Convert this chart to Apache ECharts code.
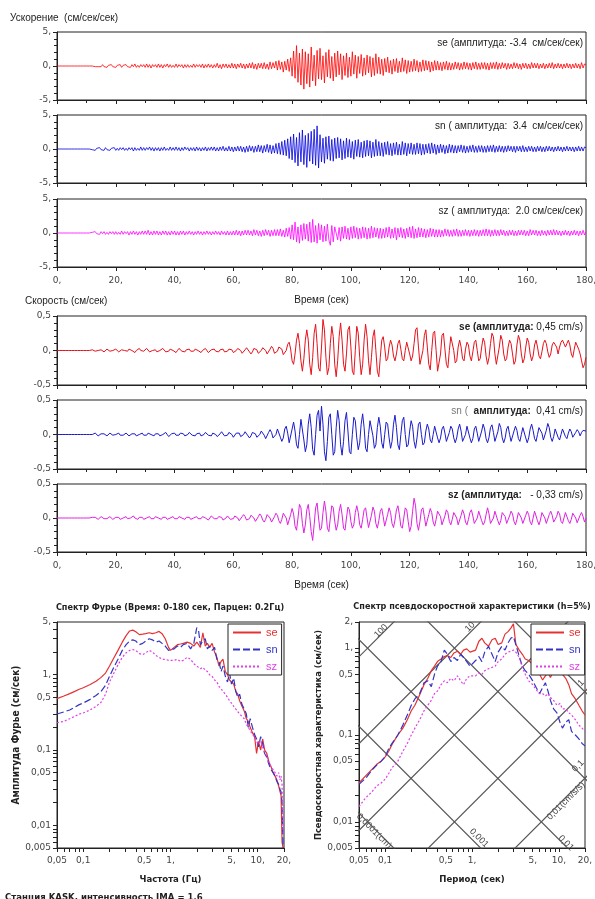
<!DOCTYPE html>
<html>
<head>
<meta charset="utf-8">
<script src="https://cdn.jsdelivr.net/npm/echarts@6/dist/echarts.min.js"></script>
<style>
html, body { margin: 0; padding: 0; background: #fff; }
#chart { width: 595px; height: 899px; }
</style>
</head>
<body>
<div id="chart"></div>
<script>
// шаг записи, сек
const DT = 0.5;

// ускорение, см/сек/сек (0..180 сек, шаг 0.5)
const ACC_SE = [
  0,0,0,0,0,0,0,0,0,0,
  0,0,0,0,0,0,0,0,0,0,
  0,0,0,0,0,0.1,-0.1,0.1,-0.1,0.1,
  -0.1,0.2,-0.1,0.1,-0.2,0.1,-0.1,0.2,-0.1,0.1,
  -0.2,0.1,-0.1,0.2,-0.2,0.1,-0.1,0.2,-0.1,0.1,
  -0.2,0.2,-0.1,0.3,-0.2,0.1,-0.2,0.2,-0.1,0.2,
  -0.2,0.3,-0.2,0.2,-0.3,0.2,-0.1,0.2,-0.2,0.3,
  -0.2,0.2,-0.3,0.2,-0.1,0.3,-0.2,0.2,-0.2,0.1,
  -0.2,0.3,-0.2,0.2,-0.1,0.2,-0.3,0.2,-0.2,0.2,
  -0.2,0.1,-0.2,0.3,-0.2,0.2,-0.1,0.2,-0.2,0.3,
  -0.3,0.2,-0.2,0.3,-0.2,0.2,-0.3,0.2,-0.2,0.4,
  -0.3,0.2,-0.4,0.3,-0.2,0.3,-0.3,0.2,-0.3,0.4,
  -0.3,0.3,-0.4,0.3,-0.2,0.4,-0.3,0.3,-0.4,0.3,
  -0.3,0.4,-0.3,0.5,-0.4,0.3,-0.5,0.4,-0.3,0.4,
  -0.4,0.5,-0.4,0.3,-0.5,0.6,-0.4,0.5,-0.3,0.7,
  -0.6,0.8,-0.5,0.6,-0.9,0.7,-0.6,1.0,-0.8,1.2,
  -1.5,2.2,-1.8,3.0,-2.4,1.9,-2.8,2.5,-3.4,2.1,
  -2.6,1.8,-3.1,2.8,-2.2,1.6,-2.9,2.3,-1.9,2.6,
  -2.0,1.5,-2.5,2.0,-1.6,2.4,-1.8,1.4,-2.2,1.9,
  -1.6,2.2,-1.3,1.8,-2.0,1.5,-1.4,1.9,-1.7,1.3,
  -1.5,2.1,-1.2,1.6,-1.8,1.4,-1.1,1.7,-1.5,1.2,
  -1.3,1.6,-1.0,1.4,-1.6,1.2,-1.4,1.8,-1.1,1.3,
  -1.2,1.0,-1.4,1.1,-0.9,1.3,-1.0,0.8,-1.2,1.0,
  -0.8,1.1,-1.0,0.7,-0.9,1.2,-0.8,0.9,-1.1,0.8,
  -0.9,0.7,-0.8,1.0,-0.7,0.8,-0.9,0.6,-0.8,0.9,
  -0.7,0.8,-0.6,0.7,-0.9,0.6,-0.7,0.8,-0.6,0.7,
  -0.6,0.5,-0.7,0.6,-0.5,0.7,-0.6,0.5,-0.6,0.4,
  -0.5,0.6,-0.4,0.5,-0.6,0.4,-0.5,0.6,-0.4,0.5,
  -0.5,0.4,-0.6,0.5,-0.4,0.6,-0.5,0.4,-0.5,0.5,
  -0.4,0.5,-0.5,0.4,-0.6,0.5,-0.4,0.5,-0.4,0.6,
  -0.5,0.4,-0.4,0.5,-0.3,0.4,-0.5,0.4,-0.4,0.3,
  -0.4,0.5,-0.3,0.4,-0.4,0.3,-0.5,0.4,-0.3,0.4,
  -0.4,0.3,-0.4,0.5,-0.3,0.4,-0.3,0.4,-0.4,0.3,
  -0.3,0.4,-0.4,0.3,-0.3,0.4,-0.3,0.5,-0.4,0.3,
  -0.3,0.4,-0.3,0.3,-0.4,0.3,-0.3,0.4,-0.3,0.3,
  -0.4,0.3,-0.3,0.4,-0.3,0.3,-0.4,0.5,-0.3,0.3,
  0.2
];
const ACC_SN = [
  0,0,0,0,0,0,0,0,0,0,
  0,0,0,0,0,0,0,0,0,0,
  0,0,0,0.1,-0.1,0.1,-0.2,0.1,-0.1,0.2,
  -0.1,0.1,-0.2,0.2,-0.1,0.1,-0.2,0.1,-0.1,0.2,
  -0.2,0.1,-0.2,0.2,-0.1,0.2,-0.2,0.1,-0.2,0.2,
  -0.1,0.2,-0.3,0.2,-0.2,0.1,-0.2,0.3,-0.2,0.2,
  -0.2,0.2,-0.1,0.3,-0.2,0.2,-0.3,0.2,-0.2,0.2,
  -0.3,0.2,-0.2,0.3,-0.2,0.1,-0.2,0.3,-0.2,0.2,
  -0.2,0.3,-0.2,0.2,-0.3,0.2,-0.2,0.3,-0.1,0.2,
  -0.3,0.2,-0.2,0.2,-0.3,0.3,-0.2,0.2,-0.3,0.2,
  -0.2,0.3,-0.3,0.2,-0.2,0.3,-0.2,0.3,-0.3,0.2,
  -0.3,0.3,-0.2,0.4,-0.3,0.2,-0.3,0.4,-0.3,0.3,
  -0.4,0.3,-0.3,0.4,-0.3,0.4,-0.4,0.3,-0.5,0.4,
  -0.4,0.5,-0.3,0.4,-0.5,0.4,-0.4,0.6,-0.4,0.5,
  -0.6,0.5,-0.4,0.7,-0.5,0.6,-0.7,0.5,-0.6,0.8,
  -0.7,0.9,-0.8,1.1,-0.9,1.3,-1.0,1.5,-1.4,1.8,
  -1.6,2.2,-2.0,1.7,-2.5,2.4,-1.9,2.8,-2.3,2.0,
  -2.7,2.3,-1.8,2.6,-2.2,2.9,-2.4,3.4,-2.8,2.1,
  -1.9,1.6,-2.1,1.8,-1.5,1.9,-1.7,1.4,-1.8,1.6,
  -1.4,1.7,-1.3,1.5,-1.6,1.2,-1.4,1.6,-1.2,1.4,
  -1.3,1.1,-1.5,1.3,-1.1,1.4,-1.2,1.0,-1.3,1.2,
  -1.1,1.3,-1.0,1.2,-1.3,1.0,-1.1,1.4,-1.0,1.1,
  -1.0,0.9,-1.1,1.0,-0.8,1.1,-0.9,0.8,-1.0,0.9,
  -0.8,1.0,-0.9,0.7,-0.9,1.1,-0.8,0.9,-1.0,0.8,
  -0.7,0.9,-0.8,0.7,-0.8,0.9,-0.7,0.8,-0.9,0.7,
  -0.8,0.7,-0.6,0.8,-0.7,0.9,-0.6,0.7,-0.8,0.6,
  -0.6,0.7,-0.5,0.6,-0.7,0.5,-0.6,0.7,-0.5,0.6,
  -0.6,0.5,-0.6,0.5,-0.4,0.6,-0.5,0.5,-0.6,0.4,
  -0.5,0.5,-0.4,0.6,-0.5,0.4,-0.5,0.5,-0.4,0.5,
  -0.5,0.4,-0.5,0.5,-0.4,0.5,-0.4,0.6,-0.5,0.4,
  -0.4,0.5,-0.4,0.4,-0.5,0.4,-0.4,0.5,-0.3,0.4,
  -0.4,0.4,-0.5,0.4,-0.3,0.4,-0.4,0.5,-0.4,0.3,
  -0.4,0.4,-0.3,0.4,-0.4,0.3,-0.4,0.4,-0.3,0.4,
  -0.4,0.3,-0.4,0.4,-0.3,0.4,-0.3,0.3,-0.4,0.3,
  -0.3,0.4,-0.3,0.3,-0.4,0.3,-0.3,0.4,-0.3,0.3,
  -0.3,0.3,-0.4,0.3,-0.3,0.4,-0.3,0.3,-0.3,0.3,
  0.2
];
const ACC_SZ = [
  0,0,0,0,0,0,0,0,0,0,
  0,0,0,0,0,0,0,0,0,0,
  0,0,0,0,0.1,-0.1,0.2,-0.1,0.1,-0.2,
  0.2,-0.1,0.2,-0.2,0.1,-0.2,0.2,-0.1,0.2,-0.2,
  0.2,-0.2,0.1,-0.2,0.3,-0.2,0.2,-0.1,0.2,-0.3,
  0.2,-0.2,0.3,-0.2,0.2,-0.3,0.2,-0.2,0.3,-0.2,
  0.3,-0.2,0.4,-0.3,0.2,-0.3,0.3,-0.2,0.3,-0.3,
  0.2,-0.3,0.3,-0.2,0.3,-0.3,0.2,-0.3,0.3,-0.2,
  0.3,-0.3,0.2,-0.3,0.3,-0.2,0.3,-0.3,0.2,-0.2,
  0.3,-0.2,0.2,-0.3,0.2,-0.2,0.3,-0.2,0.2,-0.3,
  0.2,-0.2,0.3,-0.2,0.2,-0.3,0.2,-0.2,0.3,-0.2,
  0.2,-0.3,0.3,-0.2,0.2,-0.3,0.3,-0.3,0.2,-0.3,
  0.3,-0.3,0.4,-0.3,0.3,-0.4,0.3,-0.3,0.4,-0.3,
  0.4,-0.3,0.3,-0.4,0.5,-0.3,0.4,-0.4,0.3,-0.5,
  0.4,-0.4,0.5,-0.3,0.4,-0.5,0.4,-0.4,0.5,-0.4,
  0.5,-0.4,0.6,-0.5,0.4,-0.6,0.7,-0.5,0.8,-0.9,
  1.2,-1.0,1.6,-1.3,0.9,-1.5,1.2,-1.1,1.4,-0.9,
  1.3,-1.2,1.6,-1.4,2.0,-1.3,1.1,-1.5,1.4,-1.0,
  1.2,-1.3,1.0,-1.2,1.3,-1.0,-1.8,1.1,-1.3,0.9,
  1.1,-1.0,0.8,-1.2,0.9,-0.8,1.0,-0.9,0.7,-1.0,
  0.9,-0.8,1.0,-0.7,0.8,-0.9,0.7,-0.8,0.9,-0.7,
  0.8,-0.9,0.7,-0.8,1.0,-0.7,0.8,-0.6,0.7,-0.8,
  0.7,-0.8,0.6,-0.7,0.8,-0.6,0.9,-0.8,0.6,-0.7,
  0.8,-1.0,0.7,-0.6,0.8,-0.7,0.6,-0.8,0.7,-0.6,
  0.9,-0.7,1.0,-0.8,0.6,-0.7,0.8,-0.6,0.7,-0.6,
  0.6,-0.7,0.5,-0.6,0.7,-0.5,0.6,-0.6,0.5,-0.6,
  0.5,-0.6,0.4,-0.5,0.6,-0.4,0.5,-0.5,0.4,-0.5,
  0.5,-0.4,0.6,-0.5,0.4,-0.5,0.4,-0.4,0.5,-0.4,
  0.4,-0.5,0.4,-0.4,0.5,-0.4,0.4,-0.5,0.4,-0.4,
  0.5,-0.4,0.6,-0.4,0.5,-0.5,0.4,-0.4,0.5,-0.4,
  0.4,-0.4,0.5,-0.3,0.4,-0.4,0.3,-0.4,0.4,-0.3,
  0.4,-0.4,0.3,-0.4,0.4,-0.3,0.4,-0.3,0.4,-0.4,
  0.3,-0.4,0.5,-0.3,0.4,-0.3,0.4,-0.4,0.3,-0.4,
  0.4,-0.3,0.3,-0.4,0.4,-0.3,0.4,-0.3,0.5,-0.3,
  0.4,-0.3,0.3,-0.4,0.3,-0.3,0.4,-0.3,0.3,-0.4,
  0.3,-0.3,0.4,-0.3,0.3,-0.4,0.3,-0.3,0.4,-0.3,
  0.2
];

// скорость, см/сек (0..180 сек, шаг 0.5)
const VEL_SE = [
  0,0,0,0,0,0,0,0,0,0,
  0,0,0,0,0,0,0,0,0,0,
  0,0,0,0,0.01,0.01,-0.01,-0.02,0,0.02,
  0.01,-0.01,-0.02,0,0.02,0.01,-0.01,-0.02,0,0.01,
  0.02,0,-0.02,-0.01,0.01,0.02,0,-0.02,-0.01,0.02,
  0.03,0,-0.02,-0.03,0,0.02,0.03,0,-0.02,-0.01,
  0.01,0.03,0.01,-0.02,-0.03,0,0.02,0.01,-0.02,-0.03,
  0,0.02,0.03,0.01,-0.02,-0.03,-0.01,0.02,0.03,0,
  -0.02,-0.03,0,0.03,0.02,-0.01,-0.03,-0.02,0.01,0.03,
  0.02,-0.01,-0.03,-0.01,0.02,0.03,0,-0.02,-0.03,0,
  0.02,0.03,0,-0.03,-0.02,0.01,0.03,0.02,-0.01,-0.03,
  -0.02,0.01,0.03,0.02,-0.02,-0.04,-0.01,0.02,0.04,0.01,
  -0.03,-0.04,0,0.03,0.04,0,-0.04,-0.03,0.01,0.04,
  0.03,-0.02,-0.05,-0.02,0.03,0.05,0.01,-0.04,-0.05,0,
  0.04,0.05,0,-0.05,-0.04,0.02,0.06,0.03,-0.04,-0.06,
  -0.01,0.05,0.07,0.02,-0.06,-0.08,0,0.09,0.12,0.02,
  -0.15,-0.2,-0.05,0.15,0.25,0.1,-0.15,-0.3,-0.12,0.15,
  0.3,0.15,-0.2,-0.35,-0.1,0.25,0.38,0.1,-0.25,-0.3,
  0.05,0.45,0.3,-0.1,-0.35,-0.25,0.1,0.35,0.2,-0.2,
  -0.38,-0.15,0.2,0.4,0.15,-0.2,-0.3,-0.05,0.3,0.35,
  0.05,-0.3,-0.35,0,0.35,0.25,-0.1,-0.35,-0.2,0.15,
  0.38,0.2,-0.15,-0.35,-0.1,0.2,0.3,0,-0.3,-0.38,
  -0.1,0.15,0.2,0.05,-0.15,-0.12,0.05,0.15,0.08,-0.08,
  -0.15,-0.05,0.1,0.15,0.02,-0.12,-0.15,0,0.12,0.1,
  -0.05,-0.15,-0.08,0.1,0.3,0.33,0.05,-0.2,-0.22,0,
  0.22,0.3,0.05,-0.2,-0.28,0,0.25,0.28,0,-0.3,
  -0.32,-0.05,0.22,0.25,0.02,-0.2,-0.25,0,0.2,0.22,
  0,-0.18,-0.15,0.05,0.15,0.05,-0.12,-0.15,0.02,0.12,
  0.08,-0.08,-0.15,-0.02,0.12,0.15,0,-0.15,-0.12,0.05,
  0.18,0.12,-0.08,-0.2,-0.1,0.1,0.25,0.2,-0.05,-0.2,
  -0.18,0.05,0.22,0.15,-0.05,-0.15,-0.12,0.05,0.15,0.1,
  -0.05,-0.2,-0.15,0.08,0.22,0.15,-0.05,-0.18,-0.12,0.05,
  0.18,0.12,-0.05,-0.15,-0.08,0.08,0.15,0.05,-0.08,-0.12,
  -0.02,0.1,0.15,0.1,-0.02,-0.1,-0.05,0.08,0.12,0.1,
  0.05,-0.05,0.05,0.12,0.15,0.1,0.05,0.1,0.15,0.08,
  -0.05,-0.1,0.02,0.12,0.1,0.02,-0.05,-0.15,-0.25,-0.2,
  -0.1
];
const VEL_SN = [
  0,0,0,0,0,0,0,0,0,0,
  0,0,0,0,0,0,0,0,0,0,
  0,0,0,0,0,0.01,0.02,0,-0.02,-0.01,
  0.01,0.02,0.01,-0.01,-0.02,0,0.02,0.01,-0.01,-0.02,
  0,0.02,0.02,-0.01,-0.02,-0.01,0.01,0.02,0,-0.02,
  -0.02,0.01,0.03,0.01,-0.02,-0.03,0,0.02,0.02,-0.01,
  -0.03,-0.01,0.02,0.03,0,-0.02,-0.02,0.01,0.03,0.01,
  -0.02,-0.03,0,0.02,0.03,0,-0.03,-0.02,0.01,0.03,
  0.02,-0.01,-0.03,-0.01,0.02,0.03,0.01,-0.02,-0.03,0,
  0.03,0.02,-0.01,-0.03,-0.02,0.01,0.03,0.02,-0.02,-0.03,
  0,0.03,0.03,-0.01,-0.03,-0.02,0.02,0.03,0,-0.03,
  -0.03,0.01,0.04,0.02,-0.02,-0.04,-0.01,0.03,0.04,0,
  -0.04,-0.03,0.02,0.04,0.02,-0.03,-0.04,0,0.04,0.03,
  -0.02,-0.05,-0.02,0.03,0.05,0.01,-0.04,-0.05,0,0.05,
  0.05,-0.01,-0.06,-0.04,0.03,0.07,0.03,-0.05,-0.07,0,
  0.08,0.06,-0.04,-0.1,-0.05,0.08,0.12,0.02,-0.12,-0.1,
  0.08,0.18,0.05,-0.15,-0.2,0,0.22,0.2,-0.08,-0.25,
  -0.15,0.15,0.3,0.1,-0.22,-0.3,0,0.28,0.35,0.05,
  0.41,0.15,-0.25,-0.38,-0.1,0.25,0.3,0,-0.3,-0.25,
  0.1,0.35,0.2,-0.15,-0.3,-0.1,0.2,0.32,0.05,-0.25,
  -0.28,0,0.25,0.2,-0.05,-0.22,-0.12,0.15,0.3,0.1,
  -0.2,-0.25,0,0.2,0.22,-0.02,-0.2,-0.15,0.1,0.25,
  0.12,-0.12,-0.2,0,0.18,0.15,-0.05,-0.2,-0.1,0.15,
  0.28,0.1,-0.15,-0.22,0,0.2,0.25,0,-0.18,-0.15,
  0.05,0.2,0.12,-0.1,-0.2,-0.05,0.15,0.18,0,-0.15,
  -0.12,0.05,0.15,0.08,-0.08,-0.12,0,0.12,0.1,-0.05,
  -0.12,-0.05,0.08,0.12,0.02,-0.1,-0.1,0.03,0.12,0.08,
  -0.05,-0.12,-0.05,0.08,0.15,0.05,-0.1,-0.12,0,0.12,
  0.1,-0.05,-0.12,-0.06,0.08,0.12,0.02,-0.1,-0.1,0.05,
  0.15,0.08,-0.06,-0.12,-0.04,0.1,0.14,0.03,-0.1,-0.1,
  0.04,0.16,0.1,-0.05,-0.12,-0.05,0.08,0.12,0,-0.1,
  -0.08,0.05,0.12,0.06,-0.06,-0.1,0,0.1,0.08,-0.05,
  -0.12,-0.05,0.08,0.15,0.06,-0.06,-0.1,0,0.1,0.12,
  0.02,-0.08,-0.06,0.06,0.16,0.1,-0.04,-0.1,-0.03,0.08,
  0.06,-0.04,-0.08,0,0.08,0.06,-0.03,-0.06,0.02,0.08,
  0.04,-0.04,-0.05,0.03,0.07,0.04,-0.02,0.03,0.06,0.04,
  0.05
];
const VEL_SZ = [
  0,0,0,0,0,0,0,0,0,0,
  0,0,0,0,0,0,0,0,0,0,
  0,0,0,0,0.01,0.02,0.01,-0.01,-0.02,0,
  0.02,0.02,-0.01,-0.02,-0.01,0.01,0.02,0,-0.02,-0.01,
  0.01,0.02,0.01,-0.02,-0.02,0,0.02,0.02,-0.01,-0.02,
  0,0.02,0.03,0,-0.02,-0.02,0.01,0.03,0.01,-0.02,
  -0.03,0,0.02,0.02,-0.01,-0.03,-0.01,0.02,0.03,0,
  -0.02,-0.02,0.01,0.03,0.01,-0.02,-0.03,0,0.02,0.02,
  -0.01,-0.03,-0.01,0.02,0.03,0,-0.02,-0.02,0.01,0.03,
  0.01,-0.02,-0.03,0,0.02,0.02,-0.01,-0.03,-0.01,0.02,
  0.03,0,-0.02,-0.03,0,0.03,0.02,-0.01,-0.03,-0.01,
  0.02,0.04,0.01,-0.03,-0.04,0,0.03,0.03,-0.02,-0.04,
  -0.01,0.03,0.04,0,-0.04,-0.03,0.02,0.05,0.02,-0.03,
  -0.05,-0.01,0.04,0.05,0,-0.05,-0.04,0.02,0.06,0.03,
  -0.03,-0.06,-0.02,0.05,0.06,0,-0.06,-0.05,0.02,0.07,
  0.04,-0.04,-0.08,-0.02,0.07,0.09,0,-0.1,-0.08,0.05,
  0.14,0.06,-0.12,-0.18,0,0.2,0.15,-0.08,-0.22,-0.1,
  0.12,0.2,0.02,-0.2,-0.33,-0.1,0.15,0.22,0,-0.18,
  -0.15,0.08,0.25,0.1,-0.15,-0.2,0,0.18,0.15,-0.05,
  -0.18,-0.1,0.1,0.2,0.05,-0.15,-0.18,0,0.16,0.12,
  -0.05,-0.15,-0.1,0.08,0.18,0.08,-0.1,-0.15,-0.02,0.12,
  0.15,0,-0.14,-0.12,0.04,0.16,0.1,-0.08,-0.15,-0.04,
  0.1,0.14,0.02,-0.12,-0.1,0.05,0.15,0.08,-0.08,-0.14,
  -0.03,0.12,0.18,0.05,-0.12,-0.15,0,0.15,0.12,-0.05,
  -0.2,-0.12,0.1,0.29,0.18,-0.08,-0.18,-0.05,0.12,0.15,
  0.02,-0.12,-0.1,0.05,0.14,0.08,-0.06,-0.12,-0.02,0.1,
  0.12,0.02,-0.1,-0.1,0.03,0.12,0.08,-0.05,-0.1,-0.02,
  0.08,0.1,0,-0.1,-0.08,0.04,0.12,0.06,-0.06,-0.1,
  -0.02,0.08,0.12,0.03,-0.08,-0.1,0,0.1,0.08,-0.04,
  -0.1,-0.06,0.05,0.15,0.06,-0.08,-0.1,0,0.1,0.08,
  -0.04,-0.1,-0.04,0.08,0.1,0.02,-0.08,-0.08,0.03,0.1,
  0.06,-0.05,-0.1,-0.02,0.08,0.1,0,-0.08,-0.06,0.04,
  0.1,0.05,-0.06,-0.1,0,0.1,0.08,-0.04,-0.1,-0.03,
  0.08,0.1,0,-0.08,-0.06,0.05,0.1,0.04,-0.06,-0.08,
  0.02,0.1,0.06,-0.05,-0.08,0,0.08,0.06,-0.04,-0.08,
  -0.02,0.07,0.08,0,-0.07,-0.05,0.04,0.08,0.02,-0.06,
  0
];

// спектр Фурье: частота (Гц) и амплитуда (см/сек)
const FREQ = [0.05,0.06,0.07,0.08,0.09,0.1,0.12,0.14,0.16,0.18,0.2,0.22,0.25,0.28,0.31,0.34,0.37,0.4,0.44,0.48,
  0.52,0.57,0.62,0.68,0.74,0.8,0.87,0.95,1.0,1.1,1.2,1.3,1.4,1.55,1.7,1.85,2.0,2.1,2.2,2.35,
  2.5,2.65,2.8,3.0,3.2,3.4,3.6,3.8,4.0,4.25,4.5,4.75,5.0,5.3,5.6,5.9,6.2,6.6,7.0,7.4,
  7.8,8.2,8.7,9.2,9.7,10.2,10.8,11.4,12,12.7,13.4,14.2,15,15.8,16.6,17.4,18,18.5,19,19.5];
const FOURIER_SE = [0.48,0.52,0.56,0.6,0.64,0.67,0.74,0.82,0.92,1.05,1.3,1.6,2.1,2.7,3.3,3.8,3.9,3.7,3.4,3.45,
  3.5,3.6,3.5,3.6,3.75,3.5,3.0,2.3,2.1,2.3,2.5,2.55,2.6,2.7,2.6,2.4,2.7,2.5,2.3,3.6,
  2.4,2.6,2.3,2.6,2.0,1.7,1.3,1.5,1.6,1.1,1.0,0.85,0.9,0.75,0.6,0.55,0.45,0.38,0.33,0.26,
  0.24,0.2,0.17,0.15,0.09,0.13,0.1,0.14,0.1,0.09,0.07,0.06,0.05,0.045,0.04,0.033,0.028,0.025,0.006,0.005];
const FOURIER_SN = [0.3,0.32,0.34,0.37,0.4,0.42,0.47,0.53,0.6,0.72,0.95,1.2,1.6,2.1,2.5,2.8,2.9,2.8,2.5,2.6,
  2.8,3.0,2.9,2.7,2.8,2.6,2.4,2.1,2.0,2.2,2.4,2.3,2.5,2.6,2.2,2.6,4.2,3.8,2.5,2.8,
  3.0,2.2,2.4,2.1,2.3,1.6,1.5,1.1,1.3,0.95,0.8,1.05,0.75,0.9,0.6,0.5,0.55,0.4,0.35,0.3,
  0.2,0.26,0.2,0.16,0.14,0.11,0.15,0.12,0.09,0.08,0.065,0.055,0.05,0.045,0.038,0.035,0.03,0.028,0.02,0.005];
const FOURIER_SZ = [0.23,0.24,0.26,0.28,0.3,0.31,0.34,0.38,0.43,0.55,0.8,1.0,1.35,1.7,1.95,2.1,2.15,2.1,1.9,1.85,
  1.95,2.1,2.0,1.8,1.7,1.6,1.6,1.55,1.5,1.55,1.6,1.5,1.55,1.7,1.6,1.4,1.3,1.25,1.2,1.25,
  1.15,1.1,1.0,0.95,0.85,0.8,0.7,0.65,0.6,0.55,0.5,0.45,0.42,0.38,0.35,0.33,0.3,0.28,0.26,0.22,
  0.2,0.18,0.16,0.15,0.13,0.12,0.13,0.11,0.09,0.085,0.07,0.06,0.055,0.05,0.045,0.05,0.04,0.045,0.035,0.008];

// спектр псевдоскоростной характеристики: период (сек) и SV (см/сек)
const PERIOD = [0.05,0.06,0.07,0.08,0.09,0.1,0.11,0.12,0.14,0.16,0.18,0.2,0.22,0.25,0.28,0.31,0.34,0.37,0.4,0.44,
  0.48,0.52,0.57,0.62,0.68,0.74,0.8,0.87,0.95,1.0,1.1,1.2,1.3,1.4,1.55,1.7,1.85,2.0,2.2,2.4,
  2.6,2.8,3.0,3.2,3.5,3.8,4.1,4.5,5.0,5.5,6.0,6.5,7.0,7.5,8.0,8.7,9.5,10.3,11,12,
  13,14,15.5,17,18.5,20];
const PSV_SE = [0.028,0.034,0.04,0.046,0.05,0.056,0.065,0.078,0.1,0.12,0.15,0.19,0.22,0.29,0.38,0.45,0.55,0.62,0.7,0.75,
  0.8,0.82,0.78,0.88,0.92,0.85,0.95,0.98,0.9,0.86,0.95,1.2,1.3,1.15,1.05,1.25,1.3,1.1,1.15,1.45,
  1.55,1.7,1.9,1.1,0.95,0.85,0.75,0.72,0.65,0.6,0.5,0.43,0.48,0.52,0.46,0.55,0.6,0.58,0.5,0.45,
  0.38,0.3,0.26,0.22,0.19,0.17];
const PSV_SN = [0.027,0.032,0.039,0.045,0.05,0.056,0.07,0.08,0.1,0.13,0.17,0.22,0.26,0.3,0.4,0.42,0.36,0.5,0.62,0.7,
  0.95,0.85,0.7,0.78,0.72,0.85,0.78,0.7,0.62,0.65,0.72,0.8,0.7,0.9,1.05,0.85,0.7,0.9,1.05,0.95,
  1.15,1.3,1.35,1.1,0.8,0.62,0.55,0.5,0.42,0.35,0.3,0.35,0.4,0.32,0.25,0.2,0.18,0.14,0.12,0.14,
  0.15,0.11,0.1,0.09,0.08,0.075];
const PSV_SZ = [0.015,0.019,0.022,0.026,0.028,0.031,0.036,0.042,0.05,0.065,0.08,0.1,0.12,0.15,0.19,0.22,0.25,0.3,0.32,0.38,
  0.42,0.4,0.45,0.42,0.48,0.42,0.38,0.45,0.48,0.5,0.48,0.52,0.5,0.55,0.58,0.6,0.62,0.7,0.75,0.85,
  0.9,0.92,0.95,0.9,0.78,0.6,0.5,0.42,0.38,0.33,0.3,0.3,0.28,0.3,0.27,0.25,0.22,0.23,0.2,0.2,
  0.18,0.17,0.15,0.13,0.12,0.11];

// трипартитная сетка
const DISP_LINES = [0.0001, 0.001, 0.01, 0.1, 1];   // см
const ACCEL_LINES = [0.01, 0.1, 1, 10, 100];        // см/сек/сек

const FREQ_LABELS = [0.05, 0.1, 0.5, 1, 5, 10, 20];
const AMP_LABELS = [0.005, 0.01, 0.05, 0.1, 0.5, 1, 5];
const PSV_LABELS = [0.005, 0.01, 0.05, 0.1, 0.5, 1, 2];

const FONT = "'Liberation Sans', 'DejaVu Sans', sans-serif";
const NARROW = "'Liberation Sans Narrow', 'DejaVu Sans Condensed', sans-serif";
const TICKFONT = "'DejaVu Sans', sans-serif";

function pairs(arr) {
  return arr.map((v, i) => [i * DT, v]);
}
function zip(xs, ys) {
  return xs.map((x, i) => [x, ys[i]]);
}
function fmt(v) {
  let s = String(+(+v).toPrecision(6)).replace('.', ',');
  if (s.indexOf(',') < 0) s += ',';
  return s;
}
function logTicks(lo, hi) {
  const out = [];
  for (let d = -4; d <= 2; d++) {
    for (let m = 1; m <= 9; m++) {
      const v = +(m * Math.pow(10, d)).toPrecision(6);
      if (v >= lo - 1e-12 && v <= hi + 1e-12) out.push(v);
    }
  }
  return out;
}

const chart = echarts.init(document.getElementById('chart'), null, { renderer: 'canvas' });

const grids = [
  { left: 57, top: 32, width: 529, height: 68 },
  { left: 57, top: 115, width: 529, height: 68 },
  { left: 57, top: 199, width: 529, height: 68 },
  { left: 57, top: 316, width: 529, height: 69 },
  { left: 57, top: 400, width: 529, height: 69 },
  { left: 57, top: 484, width: 529, height: 68 },
  { left: 57, top: 622, width: 227, height: 226 },
  { left: 359, top: 622, width: 226, height: 226 }
].map(g => Object.assign({
  show: true, borderColor: '#222', borderWidth: 1,
  containLabel: false, outerBoundsMode: 'none'
}, g));

const axisLine = { onZero: false, lineStyle: { color: '#222', width: 1 } };
const tickStyle = { lineStyle: { color: '#222', width: 1 } };

const xAxes = [];
const yAxes = [];
for (let i = 0; i < 6; i++) {
  const labelled = i === 2 || i === 5;
  xAxes.push({
    gridIndex: i, type: 'value', min: 0, max: 180, interval: 20,
    axisLine: axisLine,
    axisTick: Object.assign({ length: 4 }, tickStyle),
    minorTick: Object.assign({ show: true, splitNumber: 2, length: 3 }, tickStyle),
    splitLine: { show: false },
    axisLabel: { show: labelled, formatter: fmt, fontSize: 9, color: '#444', fontFamily: TICKFONT, margin: 9 },
    name: labelled ? 'Время (сек)' : '',
    nameLocation: 'middle', nameGap: 28,
    nameTextStyle: { fontSize: 10, color: '#222', fontFamily: FONT }
  });
  const acc = i < 3;
  yAxes.push({
    gridIndex: i, type: 'value',
    min: acc ? -5 : -0.5, max: acc ? 5 : 0.5, interval: acc ? 5 : 0.5,
    axisLine: axisLine,
    axisTick: Object.assign({ length: 4 }, tickStyle),
    minorTick: Object.assign({ show: true, splitNumber: 5, length: 3 }, tickStyle),
    splitLine: { show: false },
    axisLabel: { formatter: fmt, fontSize: 9, color: '#444', fontFamily: TICKFONT, margin: 6 }
  });
}
// спектр Фурье
xAxes.push({
  gridIndex: 6, type: 'log', logBase: 10, min: 0.05, max: 20,
  axisLine: axisLine,
  axisTick: Object.assign({ length: 4, customValues: logTicks(0.05, 20) }, tickStyle),
  splitLine: { show: false }, minorTick: { show: false },
  axisLabel: { customValues: FREQ_LABELS, formatter: fmt, fontSize: 9, color: '#444', fontFamily: TICKFONT, margin: 8 },
  name: 'Частота (Гц)', nameLocation: 'middle', nameGap: 27,
  nameTextStyle: { fontSize: 9.5, fontWeight: 'bold', color: '#222', fontFamily: NARROW }
});
yAxes.push({
  gridIndex: 6, type: 'log', logBase: 10, min: 0.005, max: 5,
  axisLine: axisLine,
  axisTick: Object.assign({ length: 4, customValues: logTicks(0.005, 5) }, tickStyle),
  splitLine: { show: false }, minorTick: { show: false },
  axisLabel: { customValues: AMP_LABELS, formatter: fmt, fontSize: 9, color: '#444', fontFamily: TICKFONT, margin: 6 },
  name: 'Амплитуда Фурье (см/сек)', nameLocation: 'middle', nameGap: 35,
  nameTextStyle: { fontSize: 10, fontWeight: 'bold', color: '#222', fontFamily: NARROW }
});
// псевдоскоростной спектр
xAxes.push({
  gridIndex: 7, type: 'log', logBase: 10, min: 0.05, max: 20,
  axisLine: axisLine,
  axisTick: Object.assign({ length: 4, customValues: logTicks(0.05, 20) }, tickStyle),
  splitLine: { show: false }, minorTick: { show: false },
  axisLabel: { customValues: FREQ_LABELS, formatter: fmt, fontSize: 9, color: '#444', fontFamily: TICKFONT, margin: 8 },
  name: 'Период (сек)', nameLocation: 'middle', nameGap: 27,
  nameTextStyle: { fontSize: 9.5, fontWeight: 'bold', color: '#222', fontFamily: NARROW }
});
yAxes.push({
  gridIndex: 7, type: 'log', logBase: 10, min: 0.005, max: 2,
  axisLine: axisLine,
  axisTick: Object.assign({ length: 4, customValues: logTicks(0.005, 2) }, tickStyle),
  splitLine: { show: false }, minorTick: { show: false },
  axisLabel: { customValues: PSV_LABELS, formatter: fmt, fontSize: 9, color: '#444', fontFamily: TICKFONT, margin: 6 },
  name: 'Псевдоскоростная характеристика (см/сек)', nameLocation: 'middle', nameGap: 32,
  nameTextStyle: { fontSize: 9.2, fontWeight: 'bold', color: '#222', fontFamily: NARROW }
});

function trace(idx, data, color, width) {
  return {
    type: 'line', xAxisIndex: idx, yAxisIndex: idx, data: pairs(data),
    symbol: 'none', silent: true,
    lineStyle: { color: color, width: width }, itemStyle: { color: color }
  };
}
const SPEC = {
  se: { color: '#e43232', type: 'solid' },
  sn: { color: '#3434c4', type: [7, 3] },
  sz: { color: '#e23ee6', type: [2, 2] }
};
function spec(idx, name, xs, ys) {
  return {
    type: 'line', name: name, xAxisIndex: idx, yAxisIndex: idx, data: zip(xs, ys),
    symbol: 'none', silent: true, z: 3,
    lineStyle: { color: SPEC[name].color, width: 1.2, type: SPEC[name].type },
    itemStyle: { color: SPEC[name].color }
  };
}
function gridLine(pts) {
  return {
    type: 'line', xAxisIndex: 7, yAxisIndex: 7, data: pts,
    symbol: 'none', silent: true, z: 1,
    lineStyle: { color: '#555', width: 1.2 }
  };
}

const series = [
  trace(0, ACC_SE, '#ff0000', 0.8),
  trace(1, ACC_SN, '#0000dd', 0.8),
  trace(2, ACC_SZ, '#ff00ff', 0.8),
  trace(3, VEL_SE, '#e8101a', 1),
  trace(4, VEL_SN, '#1a1acc', 1),
  trace(5, VEL_SZ, '#e020e0', 1),
  spec(6, 'se', FREQ, FOURIER_SE),
  spec(6, 'sn', FREQ, FOURIER_SN),
  spec(6, 'sz', FREQ, FOURIER_SZ),
  spec(7, 'se', PERIOD, PSV_SE),
  spec(7, 'sn', PERIOD, PSV_SN),
  spec(7, 'sz', PERIOD, PSV_SZ)
];
// линии постоянного смещения: SV = 2*pi*D/T, постоянного ускорения: SV = A*T/(2*pi)
DISP_LINES.forEach(d => {
  series.push(gridLine([0.02, 40].map(t => [t, 2 * Math.PI * d / t])));
});
ACCEL_LINES.forEach(a => {
  series.push(gridLine([0.02, 40].map(t => [t, a * t / (2 * Math.PI)])));
});

function legendAt(left) {
  return {
    left: left, top: 624, orient: 'vertical',
    itemWidth: 28, itemHeight: 10, itemGap: 6,
    padding: [3, 4, 3, 4],
    borderColor: '#222', borderWidth: 1, backgroundColor: '#fff',
    selectedMode: false,
    itemStyle: { color: 'rgba(0,0,0,0)', borderColor: 'rgba(0,0,0,0)', borderWidth: 0 },
    textStyle: { fontSize: 11, fontFamily: FONT },
    data: ['se', 'sn', 'sz'].map(n => ({ name: n, textStyle: { color: SPEC[n].color } }))
  };
}

function txt(x, y, text, opt) {
  return {
    type: 'text', x: x, y: y, silent: true,
    rotation: (opt && opt.rotation) || 0,
    style: Object.assign({
      text: text, fill: '#222', fontSize: 10, fontFamily: FONT,
      align: 'left', verticalAlign: 'middle'
    }, opt && opt.style)
  };
}
const R = { align: 'right' };
const boldRich = {
  b: { fontWeight: 'bold', fontSize: 10, fontFamily: FONT, fill: '#222' },
  g: { fontSize: 10, fontFamily: FONT, fill: '#777' }
};
const diag = { fontSize: 9, fill: '#444', align: 'center', fontFamily: FONT };

const graphic = [
  txt(10, 18, 'Ускорение  (см/сек/сек)'),
  txt(583, 43, 'se (амплитуда: -3.4  см/сек/сек)', { style: R }),
  txt(583, 126, 'sn ( амплитуда:  3.4  см/сек/сек)', { style: R }),
  txt(583, 211, 'sz ( амплитуда:  2.0 см/сек/сек)', { style: R }),
  txt(25, 301, 'Скорость (см/сек)'),
  txt(583, 327, '{b|se (амплитуда:} 0,45 cm/s)', { style: { align: 'right', rich: boldRich } }),
  txt(583, 411, '{g|sn (}  {b|амплитуда:}  0,41 cm/s)', { style: { align: 'right', rich: boldRich } }),
  txt(583, 495, '{b|sz (амплитуда:}   - 0,33 cm/s)', { style: { align: 'right', rich: boldRich } }),
  txt(170, 608, 'Спектр Фурье (Время: 0-180 сек, Парцен: 0.2Гц)',
    { style: { align: 'center', fontWeight: 'bold', fontFamily: NARROW, fontSize: 9 } }),
  txt(472, 607, 'Спектр псевдоскоростной характеристики (h=5%)',
    { style: { align: 'center', fontWeight: 'bold', fontFamily: NARROW, fontSize: 9 } }),
  txt(5, 898, 'Станция KASK, интенсивность JMA = 1.6',
    { style: { fontWeight: 'bold', fontFamily: NARROW, fontSize: 9.5 } }),
  txt(381, 631, '100', { rotation: Math.PI / 4, style: diag }),
  txt(470, 627, '10', { rotation: Math.PI / 4, style: diag }),
  txt(581, 683, '1', { rotation: Math.PI / 4, style: diag }),
  txt(578, 766, '0,1', { rotation: Math.PI / 4, style: diag }),
  txt(566, 801, '0,01(cm/s/s)', { rotation: Math.PI / 4, style: diag }),
  txt(374, 831, '0,0001(cm)', { rotation: -Math.PI / 4, style: diag }),
  txt(479, 838, '0,001', { rotation: -Math.PI / 4, style: diag }),
  txt(566, 843, '0,01', { rotation: -Math.PI / 4, style: diag })
];

chart.setOption({
  animation: false,
  backgroundColor: '#fff',
  grid: grids,
  xAxis: xAxes,
  yAxis: yAxes,
  legend: [legendAt(228), legendAt(531)],
  series: series,
  graphic: graphic
});
</script>
</body>
</html>
